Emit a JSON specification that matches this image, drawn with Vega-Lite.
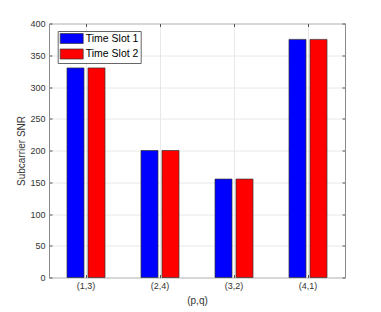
{
  "$schema": "https://vega.github.io/schema/vega-lite/v6.json",
  "width": 296,
  "height": 254,
  "autosize": {"type": "none"},
  "padding": {"left": 49, "top": 23.5, "right": 36, "bottom": 34.5},
  "background": "white",
  "config": {
    "font": "Liberation Sans",
    "view": {"stroke": "#8a8a8a", "strokeWidth": 1},
    "axis": {
      "domain": false,
      "tickColor": "#555555",
      "tickSize": -3,
      "labelPadding": 7,
      "labelFontSize": 9,
      "labelColor": "#333333",
      "titleFontSize": 10,
      "titleFontWeight": "normal",
      "titleColor": "#333333",
      "gridColor": "#e8e8e8",
      "gridWidth": 1
    }
  },
  "data": {
    "values": [
      {"pq": "(1,3)", "slot": "Time Slot 1", "snr": 330},
      {"pq": "(1,3)", "slot": "Time Slot 2", "snr": 330},
      {"pq": "(2,4)", "slot": "Time Slot 1", "snr": 200},
      {"pq": "(2,4)", "slot": "Time Slot 2", "snr": 200},
      {"pq": "(3,2)", "slot": "Time Slot 1", "snr": 155},
      {"pq": "(3,2)", "slot": "Time Slot 2", "snr": 155},
      {"pq": "(4,1)", "slot": "Time Slot 1", "snr": 375},
      {"pq": "(4,1)", "slot": "Time Slot 2", "snr": 375}
    ]
  },
  "layer": [
    {
      "mark": {"type": "bar", "stroke": "#333333", "strokeWidth": 0.7},
      "encoding": {
        "x": {
          "field": "pq", "type": "nominal", "sort": null,
          "scale": {"paddingInner": 0, "paddingOuter": 0},
          "axis": {"title": "(p,q)", "labelAngle": 0, "bandPosition": 0.5, "grid": true, "titlePadding": 5}
        },
        "xOffset": {
          "field": "slot", "type": "nominal",
          "scale": {"paddingInner": 0.19, "paddingOuter": 0.857}
        },
        "y": {
          "field": "snr", "type": "quantitative",
          "scale": {"domain": [0, 400], "nice": false},
          "axis": {"title": "Subcarrier SNR", "values": [0, 50, 100, 150, 200, 250, 300, 350, 400], "grid": true, "titlePadding": 3}
        },
        "color": {
          "field": "slot", "type": "nominal",
          "scale": {"range": ["#0000ff", "#ff0000"]},
          "legend": {
            "title": null,
            "orient": "none",
            "legendX": 8.7,
            "legendY": 7.5,
            "padding": 2,
            "strokeColor": "#666666",
            "fillColor": "white",
            "symbolType": "M-1,-1L3.6,-1L3.6,1L-1,1Z",
            "symbolSize": 100,
            "symbolStrokeColor": "#333333",
            "symbolStrokeWidth": 0.7,
            "symbolOpacity": 1,
            "labelFontSize": 10.5,
            "labelColor": "#000000",
            "labelOffset": 15,
            "rowPadding": 2.5
          }
        }
      }
    },
    {
      "mark": {"type": "bar", "opacity": 0},
      "encoding": {
        "x": {
          "field": "pq", "type": "nominal", "sort": null,
          "axis": {"orient": "top", "labels": false, "title": null, "grid": false, "bandPosition": 0.5}
        },
        "xOffset": {"field": "slot", "type": "nominal"},
        "y": {
          "field": "snr", "type": "quantitative",
          "axis": {"orient": "right", "labels": false, "title": null, "grid": false, "values": [0, 50, 100, 150, 200, 250, 300, 350, 400]}
        }
      }
    }
  ],
  "resolve": {"axis": {"x": "independent", "y": "independent"}}
}
